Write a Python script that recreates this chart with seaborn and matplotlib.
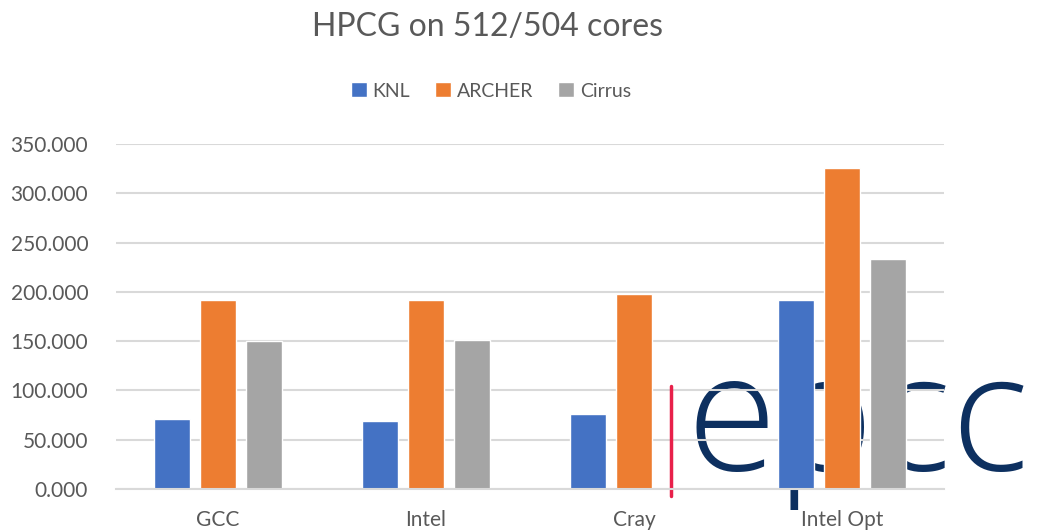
import numpy as np
import pandas as pd
import matplotlib
matplotlib.use("Agg")
import matplotlib.pyplot as plt
import seaborn as sns

# --- data ---
compilers = ["GCC", "Intel", "Cray", "Intel Opt"]
systems = ["KNL", "ARCHER", "Cirrus"]
knl = [71.0, 68.5, 76.0, 192.0]
archer = [191.7, 192.0, 197.5, 325.3]
cirrus = [150.4, 151.5, np.nan, 233.3]
colors = ["#4472C4", "#ED7D31", "#A5A5A5"]

df = pd.DataFrame({
    "compiler": compilers * 3,
    "system": [s for s in systems for _ in compilers],
    "value": knl + archer + cirrus,
})

sns.set_theme(style="white")
plt.rcParams["font.family"] = ["Lato", "DejaVu Sans"]

fig = plt.figure(figsize=(10.38, 5.32), dpi=100)
ax = fig.add_axes([116 / 1038, 1 - 489 / 532, 828 / 1038, 345 / 532])

sns.barplot(data=df, x="compiler", y="value", hue="system", order=compilers,
            hue_order=systems, palette=colors, width=0.667, gap=0.22,
            saturation=1, ax=ax, zorder=2)

ax.set_ylim(0, 350)
ax.set_yticks(np.arange(0, 351, 50))
ax.set_yticklabels([f"{v:.3f}" for v in np.arange(0, 351, 50)])
ax.set_xlabel("")
ax.set_ylabel("")
ax.yaxis.grid(True, color="#d9d9d9", linewidth=1.5)
for s in ["top", "right", "left"]:
    ax.spines[s].set_visible(False)
ax.spines["bottom"].set_color("#d9d9d9")
ax.spines["bottom"].set_linewidth(1.5)
ax.tick_params(axis="both", length=0, colors="#595959", labelsize=15)
ax.tick_params(axis="x", pad=15)
ax.tick_params(axis="y", pad=20)

# gridlines sit above the logo but below the bars
for gl in ax.get_ygridlines():
    gl.set_zorder(1)

# title and legend
fig.text(487 / 1038, 1 - 27 / 532, "HPCG on 512/504 cores", ha="center", va="center",
         fontsize=23, color="#595959")
handles, labels = ax.get_legend_handles_labels()
ax.legend(handles, labels, loc="center", bbox_to_anchor=(491 / 1038, 1 - 91 / 532),
          bbox_transform=fig.transFigure, ncol=3, frameon=False, fontsize=14,
          handlelength=0.8, handleheight=0.8, handletextpad=0.3, columnspacing=1.3,
          labelcolor="#595959")

# epcc logo overlay (behind bars)
ax.text(687 / 1038, 1 - 470 / 532, "epcc", transform=fig.transFigure, ha="left",
        va="baseline", fontsize=118, family=["Open Sans", "Lato"], fontweight="light",
        color="#0d3060", zorder=0.5, clip_on=False)
ax.plot([671 / 1038, 671 / 1038], [1 - 386 / 532, 1 - 496 / 532],
        transform=fig.transFigure, color="#e8204a", linewidth=2.5,
        clip_on=False, zorder=0.6)

fig.savefig("out.png", dpi=100)
